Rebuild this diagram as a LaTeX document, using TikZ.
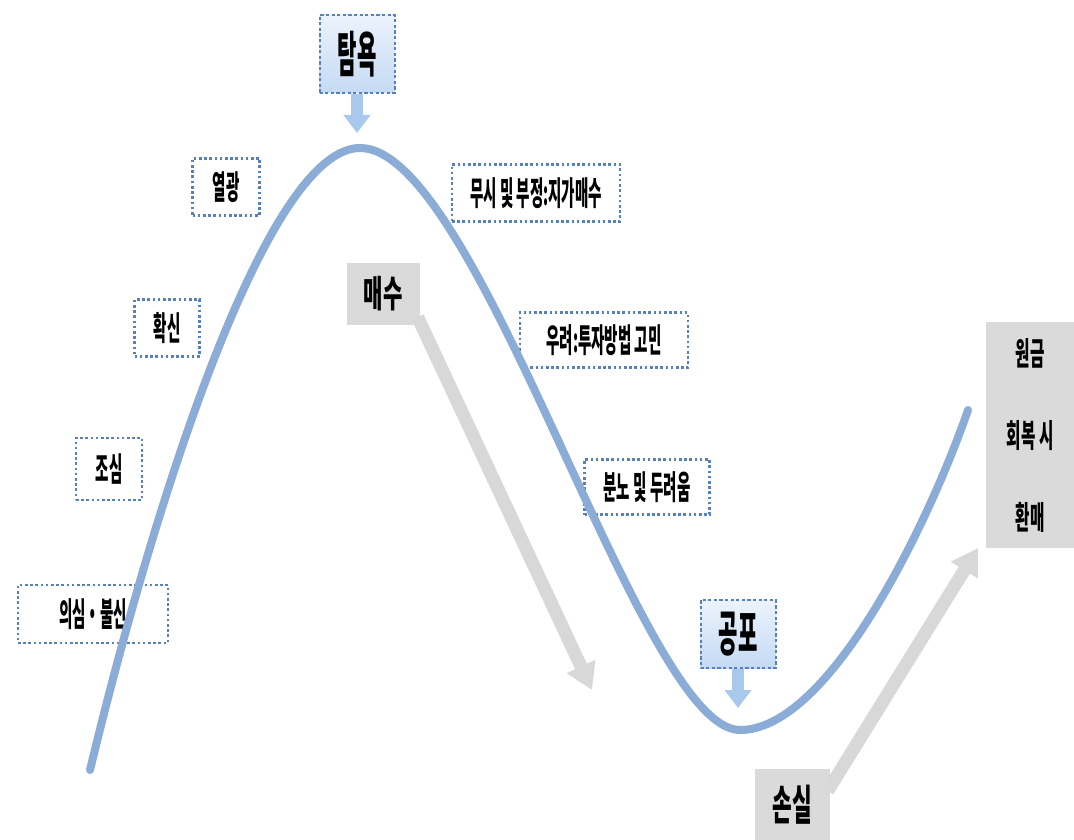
\documentclass[tikz,border=0pt]{standalone}
\usepackage{fontspec}
\usepackage{graphicx}
\newfontfamily\kr{Noto Sans CJK KR}
\usetikzlibrary{arrows.meta,calc}
\definecolor{curveblue}{RGB}{140,172,216}
\definecolor{dashblue}{RGB}{88,128,188}
\definecolor{lightblueA}{RGB}{236,243,252}
\definecolor{lightblueB}{RGB}{196,218,244}
\definecolor{arrowblue}{RGB}{168,200,236}
\definecolor{boxgray}{RGB}{218,218,218}
\definecolor{arrowgray}{RGB}{216,216,216}
\newcommand\cx[2]{\scalebox{#1}[1]{#2}}
\begin{document}
\begin{tikzpicture}[x=1pt,y=-1pt,
  dbox/.style={draw=dashblue,line width=2.2pt,dash pattern=on 2.6pt off 2.6pt,fill=white,inner sep=0pt,font=\kr\bfseries\fontsize{33}{35}\selectfont},
  hbox/.style={draw=dashblue,line width=2pt,dash pattern=on 3.2pt off 2.4pt,top color=lightblueA,bottom color=lightblueB,inner sep=0pt,font=\kr\bfseries\fontsize{49}{51}\selectfont},
  gbox/.style={fill=boxgray,inner sep=0pt},
  curve/.style={draw=curveblue,line width=8pt,line cap=round},
  garrow/.style={draw=arrowgray,line width=13pt,-{Triangle[width=30pt,length=26pt]}},
  barrow/.style={draw=arrowblue,line width=12pt,-{Triangle[width=26pt,length=18pt]}}
]
\useasboundingbox (0,0) rectangle (1074,840);
\fill[white] (0,0) rectangle (1074,840);

% dashed label boxes
\node[dbox,minimum width=67pt,minimum height=57pt] (yeol) at (226,187) {\cx{0.44}{열광}};
\node[dbox,minimum width=65pt,minimum height=57pt] (hwak) at (167,328) {\cx{0.44}{확신}};
\node[dbox,minimum width=66pt,minimum height=62pt] (josim) at (109,469) {\cx{0.44}{조심}};
\node[dbox,minimum width=150pt,minimum height=58pt] (uisim) at (93,614) {\cx{0.44}{의심・불신}};
\node[dbox,minimum width=168pt,minimum height=57pt] (musi) at (536,193) {\cx{0.44}{무시 및 부정:지가매수}};
\node[dbox,minimum width=168pt,minimum height=55pt] (uryeo) at (604,340) {\cx{0.44}{우려:투자방법 고민}};
\node[dbox,minimum width=125pt,minimum height=55pt] (bunno) at (647,487) {\cx{0.44}{분노 및 두려움}};

% highlighted boxes
\node[hbox,minimum width=75pt,minimum height=78pt] (tam) at (357,54) {\cx{0.43}{탐욕}};
\node[hbox,minimum width=75pt,minimum height=68pt] (gong) at (738,634) {\cx{0.43}{공포}};

% gray boxes
\node[gbox,minimum width=73pt,minimum height=62pt,font=\kr\bfseries\fontsize{37}{39}\selectfont] (buy) at (383,294) {\cx{0.57}{매수}};
\node[gbox,minimum width=75pt,minimum height=72pt,font=\kr\bfseries\fontsize{42}{44}\selectfont] (loss) at (792,805) {\cx{0.51}{손실}};
\node[gbox,minimum width=88pt,minimum height=226pt,align=center,font=\kr\bfseries\fontsize{32}{82}\selectfont] (won) at (1030,435) {\cx{0.49}{원금}\\\cx{0.49}{회복 시}\\\cx{0.49}{환매}};

% main curve
\draw[curve] (90,770) .. controls (160,480) and (270,148) .. (360,148)
  .. controls (480,148) and (640,730) .. (740,730)
  .. controls (830,730) and (930,520) .. (968,410);

% arrows
\coordinate (tamtip) at (357,133);
\coordinate (gongtip) at (738,708);
\coordinate (buytip) at (592,690);
\coordinate (losstip) at (978,548);
\draw[barrow] (tam.south) -- (tamtip);
\draw[barrow] (gong.south) -- (gongtip);
\draw[garrow] ($(buy.south east)+(-2,-8)$) -- (buytip);
\draw[garrow] ($(loss.north east)+(-2,22)$) -- (losstip);
\end{tikzpicture}
\end{document}
